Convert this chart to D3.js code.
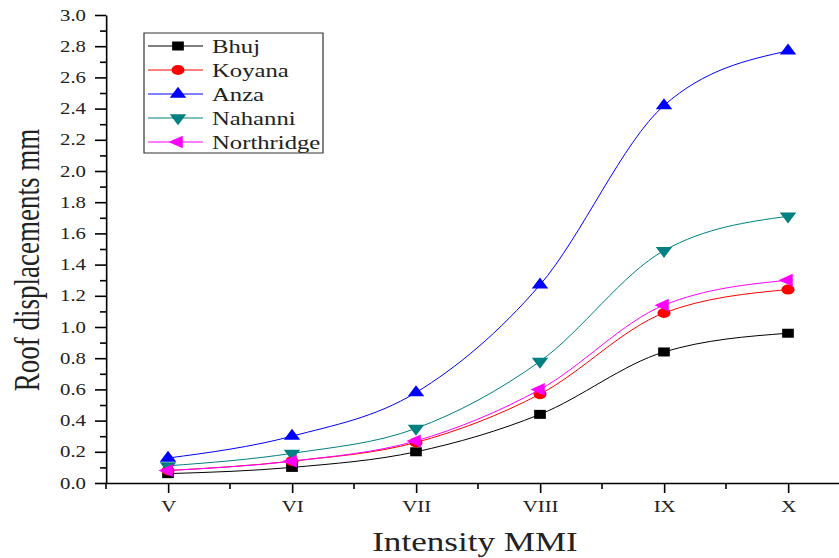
<!DOCTYPE html>
<html>
<head>
<meta charset="utf-8">
<script src="https://cdn.jsdelivr.net/npm/d3@7"></script>
<style>
  html, body { margin: 0; padding: 0; background: #fff; }
  svg { display: block; }
  text { font-family: "Liberation Serif", "DejaVu Serif", serif; fill: #222; }
</style>
</head>
<body>
<svg id="chart"></svg>
<script>
// values
const categories = ["V", "VI", "VII", "VIII", "IX", "X"];
const bhuj       = [0.06, 0.10, 0.20, 0.44, 0.84, 0.96];
const koyana     = [0.08, 0.14, 0.26, 0.57, 1.09, 1.24];
const anza       = [0.16, 0.30, 0.58, 1.27, 2.42, 2.77];
const nahanni    = [0.11, 0.19, 0.35, 0.78, 1.49, 1.71];
const northridge = [0.08, 0.14, 0.27, 0.60, 1.14, 1.30];

const seriesNames  = ["Bhuj", "Koyana", "Anza", "Nahanni", "Northridge"];
const seriesColors = ["#000000", "#ff0000", "#0000ff", "#008080", "#ff00ff"];
const seriesShapes = ["square", "circle", "up", "down", "left"];
const yTickValues  = [0.0, 0.2, 0.4, 0.6, 0.8, 1.0, 1.2, 1.4, 1.6, 1.8, 2.0, 2.2, 2.4, 2.6, 2.8, 3.0];
const yMinorValues = [0.1, 0.3, 0.5, 0.7, 0.9, 1.1, 1.3, 1.5, 1.7, 1.9, 2.1, 2.3, 2.5, 2.7, 2.9];

const seriesValues = [bhuj, koyana, anza, nahanni, northridge];

// the original picture is stretched sideways, so draw in a narrower box and stretch it
const W = 839, H = 558, SX = 1.3;
const vw = W / SX;

const svg = d3.select("#chart")
    .attr("width", W)
    .attr("height", H)
    .attr("viewBox", `0 0 ${vw} ${H}`)
    .attr("preserveAspectRatio", "none");

const left = 106 / SX;
const step = 124 / SX;

const x = d3.scalePoint()
    .domain(categories)
    .range([left, left + step * 6])
    .padding(0.5);

const y = d3.scaleLinear()
    .domain([0, 3])
    .range([483, 15]);

// y axis, minor ticks first
svg.append("g")
    .attr("transform", `translate(${left},0)`)
    .call(d3.axisLeft(y).tickValues(yMinorValues).tickSize(6 / SX).tickFormat(""))
    .call(g => g.select(".domain").remove());

const yAxis = svg.append("g")
    .attr("transform", `translate(${left},0)`)
    .call(d3.axisLeft(y).tickValues(yTickValues).tickSize(11 / SX).tickSizeOuter(0)
        .tickPadding(9 / SX).tickFormat(d3.format(".1f")));
yAxis.selectAll("text").style("font-size", "16px").style("font-family", null);

// x axis
const xMinor = categories.map(c => x(c) - step / 2).concat([x(categories[5]) + step / 2]);
const xAxis = svg.append("g")
    .attr("transform", "translate(0,483)")
    .call(d3.axisBottom(x).tickSize(10).tickSizeOuter(0).tickPadding(8));
xAxis.selectAll("text").style("font-size", "16px").style("font-family", null);

svg.append("g")
    .attr("transform", "translate(0,483)")
    .selectAll("line")
    .data(xMinor)
    .join("line")
    .attr("x1", d => d).attr("x2", d => d)
    .attr("y1", 0).attr("y2", 6)
    .attr("stroke", "#000");

svg.selectAll(".domain, .tick line")
    .attr("stroke", "#000")
    .attr("stroke-width", 1.6)
    .attr("vector-effect", "non-scaling-stroke");
svg.selectAll("g > line")
    .attr("stroke-width", 1.6)
    .attr("vector-effect", "non-scaling-stroke");

// marker paths
function markerPath(shape) {
    if (shape === "square") return d3.symbol(d3.symbolSquare, 81)();
    if (shape === "circle") return d3.symbol(d3.symbolCircle, 80)();
    return d3.symbol(d3.symbolTriangle, 70)();
}
function markerRotate(shape) {
    if (shape === "down") return 180;
    if (shape === "left") return -90;
    return 0;
}

const line = d3.line()
    .x((d, i) => x(categories[i]))
    .y(d => y(d))
    .curve(d3.curveMonotoneX);

seriesValues.forEach((vals, s) => {
    const g = svg.append("g");
    g.append("path")
        .datum(vals)
        .attr("d", line)
        .attr("fill", "none")
        .attr("stroke", seriesColors[s])
        .attr("stroke-width", 1)
        .attr("vector-effect", "non-scaling-stroke");
    g.selectAll("path.mark")
        .data(vals)
        .join("path")
        .attr("class", "mark")
        .attr("d", markerPath(seriesShapes[s]))
        .attr("transform", (d, i) => `translate(${x(categories[i])},${y(d)}) rotate(${markerRotate(seriesShapes[s])})`)
        .attr("fill", seriesColors[s]);
});

// legend
const legend = svg.append("g");
legend.append("rect")
    .attr("x", 144 / SX).attr("y", 33)
    .attr("width", (323 - 144) / SX).attr("height", 120)
    .attr("fill", "#fff")
    .attr("stroke", "#333")
    .attr("stroke-width", 1.2)
    .attr("vector-effect", "non-scaling-stroke");

seriesNames.forEach((name, s) => {
    const ly = 46 + s * 24;
    legend.append("line")
        .attr("x1", 148 / SX).attr("x2", 203 / SX)
        .attr("y1", ly).attr("y2", ly)
        .attr("stroke", seriesColors[s])
        .attr("stroke-width", 1)
        .attr("vector-effect", "non-scaling-stroke");
    legend.append("path")
        .attr("d", markerPath(seriesShapes[s]))
        .attr("transform", `translate(${178 / SX},${ly}) rotate(${markerRotate(seriesShapes[s])})`)
        .attr("fill", seriesColors[s]);
    legend.append("text")
        .attr("x", 212 / SX)
        .attr("y", ly)
        .attr("dy", "0.35em")
        .style("font-size", "19px")
        .text(name);
});

// axis titles
svg.append("text")
    .attr("x", 475 / SX)
    .attr("y", 551)
    .attr("text-anchor", "middle")
    .style("font-size", "27px")
    .text("Intensity MMI");

svg.append("text")
    .attr("transform", `translate(${39 / SX},260) rotate(-90)`)
    .attr("text-anchor", "middle")
    .style("font-size", "27px")
    .text("Roof displacements mm");
</script>
</body>
</html>
